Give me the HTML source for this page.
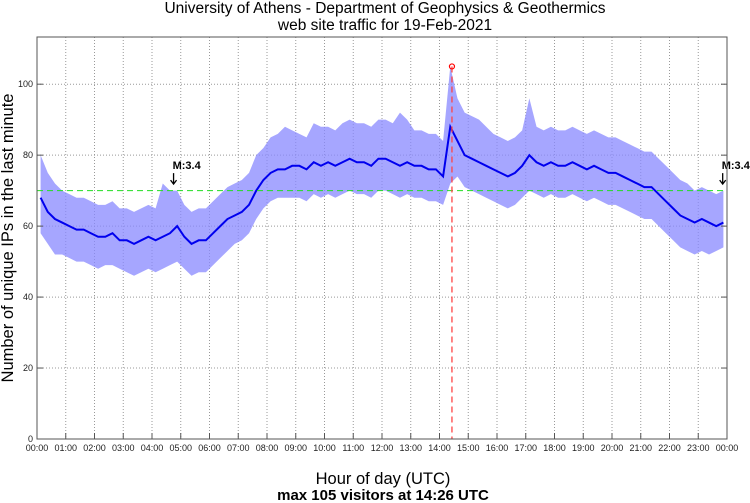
<!DOCTYPE html>
<html><head><meta charset="utf-8"><style>
body{margin:0;background:#fff;}
svg{display:block;font-family:"Liberation Sans",sans-serif;}
</style></head><body>
<svg id="chart" width="750" height="503" xmlns="http://www.w3.org/2000/svg">
<text x="385" y="13" text-anchor="middle" font-size="15.5">University of Athens - Department of Geophysics &amp; Geothermics</text>
<text x="385" y="30" text-anchor="middle" font-size="15.5">web site traffic for 19-Feb-2021</text>
<text x="383" y="484" text-anchor="middle" font-size="16.5">Hour of day (UTC)</text>
<text x="383" y="500" text-anchor="middle" font-size="15" font-weight="bold">max 105 visitors at 14:26 UTC</text>
<text transform="translate(13,238) rotate(-90)" text-anchor="middle" font-size="16.5">Number of unique IPs in the last minute</text>
<g id="grid"></g><g id="series"></g><g id="overlay"></g><g id="axes"></g>
</svg>
<script>
const values=[68,64,62,61, 60,59,59,58, 57,57,58,56, 56,55,56,57, 56,57,58,60, 57,55,56,56, 58,60,62,63, 64,66,70,73, 75,76,76,77, 77,76,78,77, 78,77,78,79, 78,78,77,79, 79,78,77,78, 77,77,76,76, 74,88,84,80, 79,78,77,76, 75,74,75,77, 80,78,77,78, 77,77,78,77, 76,77,76,75, 75,74,73,72, 71,71,69,67, 65,63,62,61, 62,61,60,61];
const lows=[58,55,52,52, 51,50,50,49, 48,49,49,48, 47,46,47,48, 47,48,49,50, 48,46,47,47, 49,51,53,55, 56,58,62,65, 67,68,68,68, 68,67,69,68, 69,68,69,70, 69,69,68,70, 70,69,68,69, 68,68,67,67, 66,72,74,71, 70,69,68,67, 66,65,66,68, 70,69,68,69, 68,68,69,68, 67,68,67,66, 66,65,64,63, 62,62,60,58, 56,54,53,52, 53,52,53,54];
const highs=[80,75,72,70, 69,68,68,67, 66,66,67,65, 65,64,65,66, 65,72,70,70, 66,64,65,65, 67,69,71,72, 73,75,80,82, 85,86,88,87, 86,85,89,88, 88,87,89,90, 89,89,88,90, 90,89,92,90, 87,87,86,86, 84,105,96,92, 91,90,88,86, 85,84,85,87, 96,88,87,88, 87,87,88,87, 86,87,86,85, 85,84,83,82, 81,81,79,77, 75,73,72,70, 71,70,69,70];
const hourLabels=["00:00","01:00","02:00","03:00","04:00","05:00","06:00","07:00","08:00","09:00","10:00","11:00","12:00","13:00","14:00","15:00","16:00","17:00","18:00","19:00","20:00","21:00","22:00","23:00","00:00"];
const yTicks=[0,20,40,60,80,100];
const maxValue=105, maxHour=14+26/60, meanValue=70;
const quakeHours=[4.75,23.85];
const quakeLabels=["M:3.4","M:3.4"];

const PL=37,PR=727,PT=37,PB=439,YMAX=113.3;
const X=h=>PL+(h/24)*(PR-PL);
const Y=v=>PB-(v/YMAX)*(PB-PT);
const NS="http://www.w3.org/2000/svg";
function mk(tag,attrs,parent){const e=document.createElementNS(NS,tag);for(const k in attrs)e.setAttribute(k,attrs[k]);document.getElementById(parent).appendChild(e);return e;}

hourLabels.forEach((lab,i)=>{
  const x=X(i);
  if(i>0&&i<24){const g=mk('line',{x1:x,x2:x,y1:PT,y2:PB,stroke:'#999','stroke-dasharray':'1,2','stroke-width':1},'grid');
  
  }
  const t=mk('line',{x1:x,x2:x,y1:PB,y2:PB-6,stroke:'#555'},'axes');
  
  
  const tl=mk('text',{x:x,y:PB+12,'text-anchor':'middle','font-size':9,fill:'#222'},'axes');
  tl.textContent=lab;
  
  
});
yTicks.forEach(v=>{
  const y=Y(v);
  if(v>0){const g=mk('line',{x1:PL,x2:PR,y1:y,y2:y,stroke:'#999','stroke-dasharray':'1,2'},'grid');
  
  }
  const t=mk('line',{x1:PL,x2:PL+6,y1:y,y2:y,stroke:'#555'},'axes');
  
  
  const t2=mk('line',{x1:PR,x2:PR-6,y1:y,y2:y,stroke:'#555'},'axes');
  
  
  const tl=mk('text',{x:PL-4,y:y+3,'text-anchor':'end','font-size':9,fill:'#222'},'axes');
  tl.textContent=v;
  
  
});
const frame=mk('rect',{x:PL,y:PT,width:PR-PL,height:PB-PT,fill:'none',stroke:'#555'},'axes');



const n=values.length, step=24/n;
let upperPath='',lowerPath='';
for(let i=0;i<n;i++){upperPath+=(i?'L':'M')+X(i*step+step/2)+','+Y(highs[i]);}
for(let i=n-1;i>=0;i--){lowerPath+='L'+X(i*step+step/2)+','+Y(lows[i]);}
const band=mk('path',{d:upperPath+lowerPath+'Z',fill:'#8888ff','fill-opacity':0.75},'series');


const pts=values.map((v,i)=>X(i*step+step/2)+','+Y(v)).join(' ');
const line=mk('polyline',{points:pts,fill:'none',stroke:'#0000ee','stroke-width':2},'series');



const mean=mk('line',{x1:PL,x2:PR,y1:Y(meanValue),y2:Y(meanValue),stroke:'#22dd22','stroke-dasharray':'6,4'},'overlay');


const mx=mk('line',{x1:X(maxHour),x2:X(maxHour),y1:Y(maxValue),y2:PB,stroke:'#ff4444','stroke-dasharray':'6,4','stroke-width':1.3},'overlay');


const mc=mk('circle',{cx:X(maxHour),cy:Y(maxValue),r:2.5,fill:'none',stroke:'#ff0000','stroke-width':1.2},'overlay');


quakeHours.forEach((h,i)=>{
  const x=X(h);
  const a=mk('path',{d:`M${x},${Y(71)-14} L${x},${Y(71)-3} M${x-3},${Y(71)-7} L${x},${Y(71)-3} L${x+3},${Y(71)-7}`,stroke:'#000','stroke-width':1.3,fill:'none'},'overlay');
  
  
  const t=mk('text',{x:x-1,y:Y(71)-18,'font-size':11,'font-weight':'bold'},'overlay');
  t.textContent=quakeLabels[i];
  
  
});
</script>
</body></html>
